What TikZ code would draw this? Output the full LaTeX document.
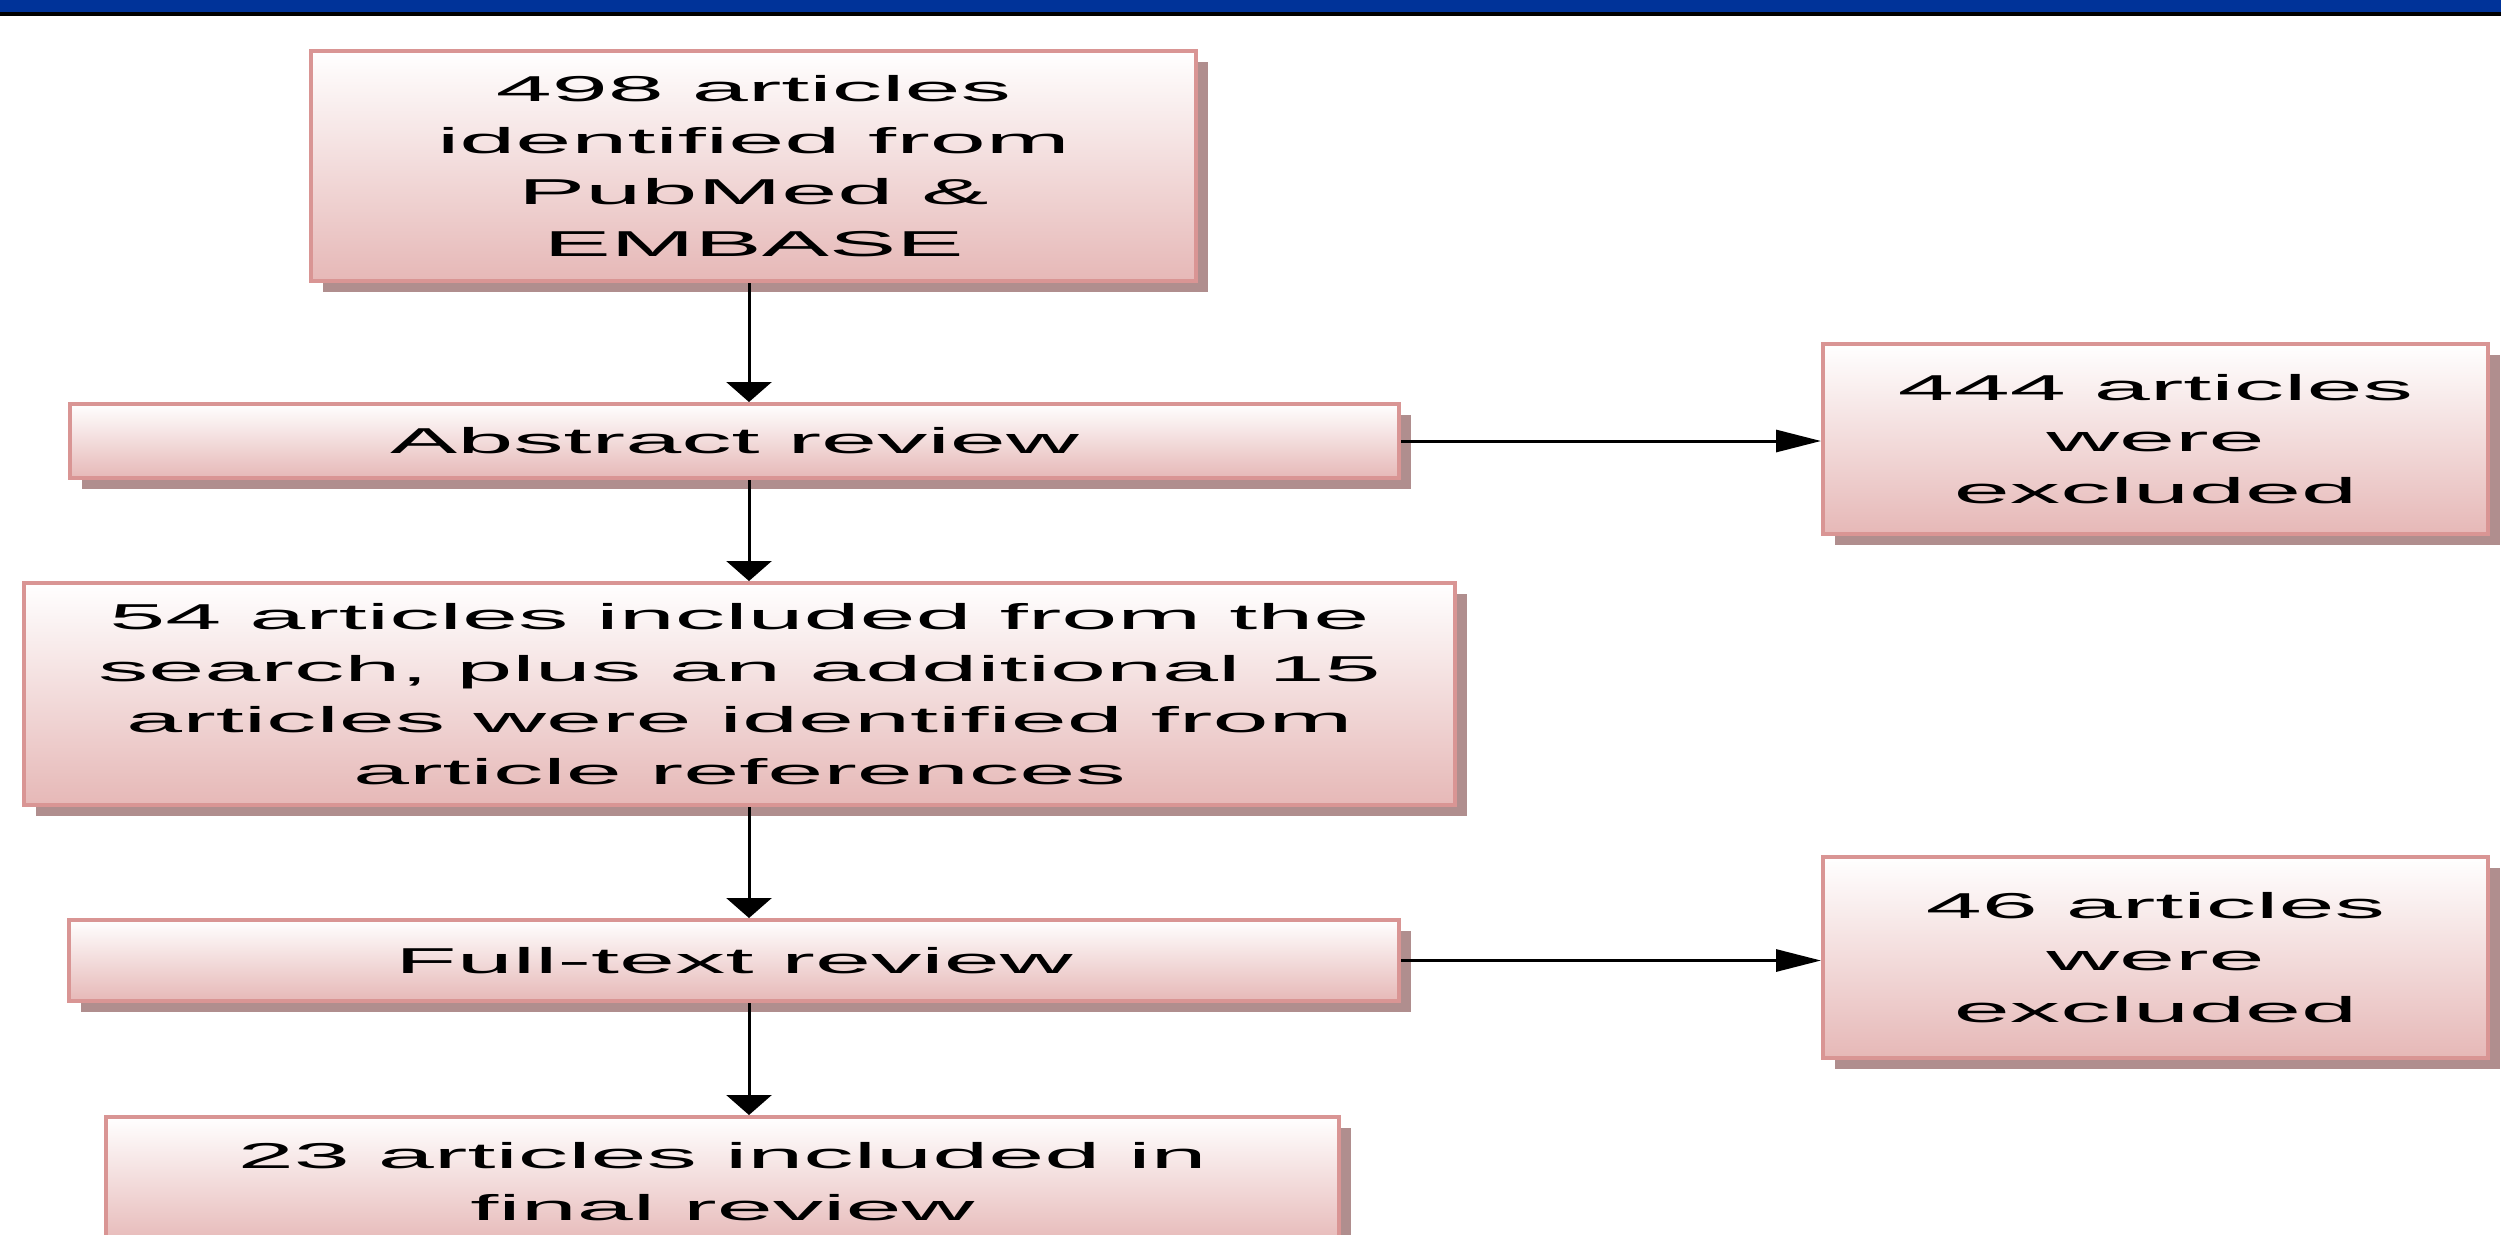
\documentclass[tikz,border=0pt]{standalone}
\usepackage{fontspec}
\newfontfamily\flowfont{Liberation Sans}[FakeStretch=2.8]
\usetikzlibrary{positioning,shadows,arrows.meta}
\definecolor{barblue}{HTML}{003399}
\definecolor{boxedge}{HTML}{D99594}
\definecolor{boxpink}{HTML}{E6B8B7}
\definecolor{boxshade}{HTML}{B08E8E}
\tikzset{>=latex}
\tikzset{
  flowbox/.style={draw=boxedge, line width=0.04cm, top color=white, bottom color=boxpink,
    inner sep=0pt, align=center, font={\flowfont\fontsize{10.24pt}{14.7pt}\selectfont},
    drop shadow={shadow xshift=0.12cm, shadow yshift=-0.11cm, fill=boxshade, opacity=1}},
  downarrow/.style={-{Triangle[length=0.2cm,width=0.45cm]}, line width=0.03cm},
  sidearrow/.style={-{Triangle[length=0.45cm,width=0.22cm]}, line width=0.03cm}
}

\begin{document}
\begin{tikzpicture}
      \useasboundingbox (0,0) rectangle (25.01,12.34);
      \clip (0,0) rectangle (25.01,12.34);
      % title bar
      \fill[barblue] (0,12.22) rectangle (25.01,12.34);
      \fill[black] (0,12.18) rectangle (25.01,12.22);
      \node[flowbox, minimum width=8.85cm, minimum height=2.30cm] (n0) at (7.535,10.68) {498 articles\\identified from\\PubMed \&\\EMBASE};
      \node[flowbox, below of=n0, node distance=2.75cm, xshift=-0.19cm, minimum width=13.29cm, minimum height=0.74cm] (n1) {Abstract review};
      \node[flowbox, below of=n1, node distance=2.53cm, xshift=0.05cm, minimum width=14.31cm, minimum height=2.22cm] (n2) {54 articles included from the\\search, plus an additional 15\\articles were identified from\\article references};
      \node[flowbox, below of=n2, node distance=2.665cm, xshift=-0.055cm, minimum width=13.30cm, minimum height=0.81cm] (n3) {Full-text review};
      \node[flowbox, below of=n3, node distance=2.21cm, xshift=-0.115cm, minimum width=12.33cm, minimum height=1.29cm] (n4) {23 articles included in\\final review};
      \node[flowbox, right of=n1, node distance=14.21cm, yshift=0.02cm, minimum width=6.65cm, minimum height=1.90cm] (x1) {444 articles\\were\\excluded};
      \node[flowbox, right of=n3, node distance=14.215cm, yshift=0.03cm, minimum width=6.65cm, minimum height=2.01cm] (x2) {46 articles\\were\\excluded};
      \coordinate (spine) at (7.49,0);
      \draw[downarrow] (n0.south -| spine) -- (n1.north -| spine);
      \draw[downarrow] (n1.south -| spine) -- (n2.north -| spine);
      \draw[downarrow] (n2.south -| spine) -- (n3.north -| spine);
      \draw[downarrow] (n3.south -| spine) -- (n4.north -| spine);
      \draw[sidearrow] (n1.east) -- (n1.east -| x1.west);
      \draw[sidearrow] (n3.east) -- (n3.east -| x2.west);
\end{tikzpicture}
\end{document}
